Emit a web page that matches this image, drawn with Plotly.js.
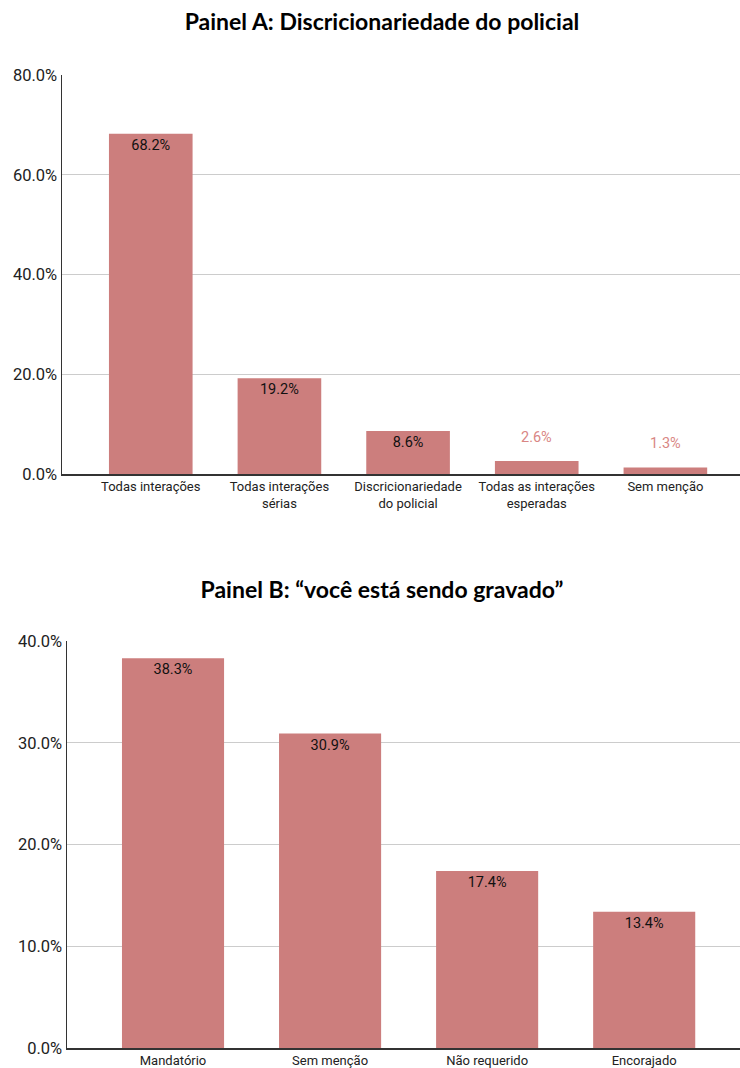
<!DOCTYPE html>
<html><head><meta charset="utf-8">
<script src="https://cdn.plot.ly/plotly-3.0.1.min.js"></script>
<style>body{margin:0;background:#fff}#a{width:740px;height:540px}#b{width:740px;height:528px}</style>
</head><body>
<div id="a"></div><div id="b"></div>
<script>
const titleA = "Painel A: Discricionariedade do policial";
const catsA = ["Todas interações", "Todas interações<br>sérias", "Discricionariedade<br>do policial", "Todas as interações<br>esperadas", "Sem menção"];
const valsA = [68.2, 19.2, 8.6, 2.6, 1.3];
const titleB = "Painel B: “você está sendo gravado”";
const catsB = ["Mandatório", "Sem menção", "Não requerido", "Encorajado"];
const valsB = [38.3, 30.9, 17.4, 13.4];

const barColor = "#cc7e7d";
const outColor = "#d98684";
const tickFont = {family: "Roboto, Liberation Sans, sans-serif", size: 13, color: "#222"};

function make(div, title, cats, vals, ymax, dtick, margin, titleY, xr, threshold) {
  const inside = vals.map(v => v >= threshold);
  const trace = {
    type: "bar", x: cats.map((c,i)=>i), y: vals,
    marker: {color: barColor},
    width: 0.65,
    text: vals.map((v,i)=> inside[i] ? v.toFixed(1)+"%" : ""),
    textposition: "inside", insidetextanchor: "end",
    textfont: {family: "Roboto, sans-serif", size: 14.5, color: "#111"},
    hoverinfo: "none"
  };
  const ann = [];
  vals.forEach((v,i)=>{ if(!inside[i]) ann.push({x:i, y:v, xref:"x", yref:"y", text:v.toFixed(1)+"%", showarrow:false, yshift:24, font:{family:"Roboto, sans-serif", size:14.5, color:outColor}}); });
  const layout = {
    title: {text: "<b>"+title+"</b>", font: {family: "Lato, Open Sans, sans-serif", size: 23, color: "#000"}, x: 382/740, xanchor: "center", xref: "paper", y: titleY, yanchor: "middle", yref: "container"},
    margin: margin,
    paper_bgcolor: "#fff", plot_bgcolor: "#fff",
    showlegend: false,
    bargap: 0.35,
    xaxis: {tickvals: cats.map((c,i)=>i), ticktext: cats, range: xr, showline: true, linecolor: "#333", linewidth: 1.5, ticks: "", tickfont: tickFont, showgrid: false, zeroline: false, fixedrange: true},
    yaxis: {range: [0, ymax], dtick: dtick, tickformat: ".1f", ticksuffix: "%", showline: true, linecolor: "#333", linewidth: 1.5, gridcolor: "#cccccc", gridwidth: 1, zeroline: false, tickfont: Object.assign({}, tickFont, {size: 16.5}), ticks: "", ticklen: 0, fixedrange: true},
    annotations: ann
  };
  layout.title.xref = "container";
  Plotly.newPlot(div, [trace], layout, {displayModeBar: false, staticPlot: true});
}

make("a", titleA, catsA, valsA, 80, 20, {l: 62, r: 0, t: 75, b: 66}, 1 - 22/540, [-0.69, 4.58], 5);
make("b", titleB, catsB, valsB, 40, 10, {l: 67, r: 0, t: 101, b: 20}, 1 - 50/528, [-0.675, 3.61], 5);
</script>
</body></html>
